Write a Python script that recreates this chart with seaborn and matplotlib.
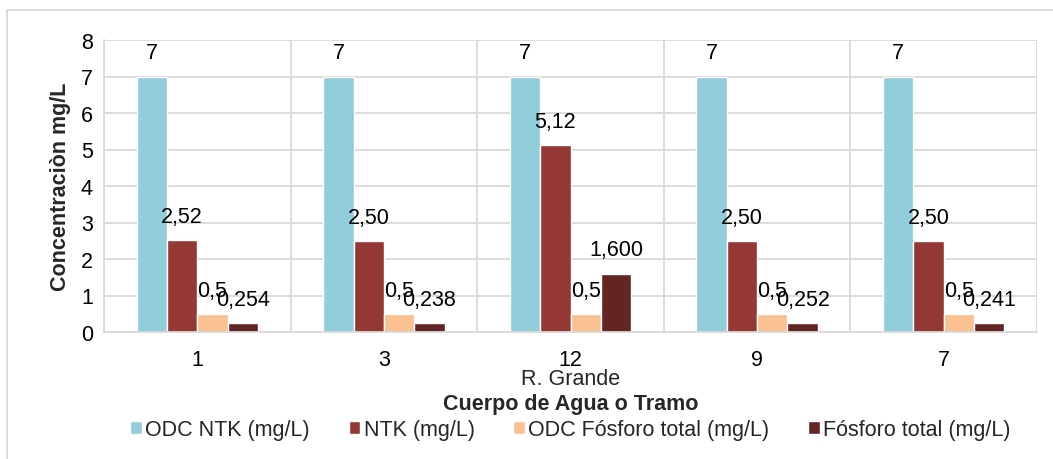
import matplotlib
matplotlib.use("Agg")
import matplotlib.pyplot as plt
import seaborn as sns
import pandas as pd
import numpy as np
from matplotlib.patches import Rectangle

# data
tramos = ["1", "3", "12", "9", "7"]
series = ["ODC NTK (mg/L)", "NTK (mg/L)", "ODC Fósforo total (mg/L)", "Fósforo total (mg/L)"]
odc_ntk = [7, 7, 7, 7, 7]
ntk = [2.52, 2.50, 5.12, 2.50, 2.50]
odc_fosforo = [0.5, 0.5, 0.5, 0.5, 0.5]
fosforo = [0.254, 0.238, 1.600, 0.252, 0.241]
label_fmt = ["{:.0f}", "{:.2f}", "{:.1f}", "{:.3f}"]
colors = ["#92CDDC", "#953735", "#FAC090", "#632523"]

df = pd.DataFrame({"tramo": tramos * 4,
                   "serie": np.repeat(series, 5),
                   "valor": odc_ntk + ntk + odc_fosforo + fosforo})

sns.set_style("white")
plt.rcParams["font.family"] = ["Liberation Sans", "DejaVu Sans"]
fs = 15.5

fig = plt.figure(figsize=(10.53, 4.6), dpi=100)
ax = fig.add_axes([104 / 1053, 1 - 333 / 460, (1037 - 104) / 1053, (333 - 41) / 460])

sns.barplot(data=df, x="tramo", y="valor", hue="serie", order=tramos, hue_order=series,
            palette=colors, width=0.65, saturation=1, ax=ax, legend=True)

for cont, fmt in zip(ax.containers, label_fmt):
    for bar in cont:
        h = bar.get_height()
        ax.annotate(fmt.format(h).replace(".", ","), (bar.get_x() + bar.get_width() / 2, h),
                    xytext=(0, 17), textcoords="offset points", ha="center", va="center",
                    fontsize=fs, color="#000000")

ax.set_ylim(0, 8)
ax.set_xlim(-0.5, 4.5)
ax.set_yticks(range(0, 9))
ax.set_xticks(np.arange(-0.5, 5, 1), minor=True)
ax.grid(axis="y", color="#D9D9D9", lw=1.3)
ax.grid(axis="x", which="minor", color="#D9D9D9", lw=1.3)
ax.set_axisbelow(True)
for s in ["top", "right"]:
    ax.spines[s].set_visible(False)
ax.spines["left"].set_color("#D9D9D9")
ax.spines["bottom"].set_color("#D9D9D9")
ax.spines["left"].set_linewidth(1.3)
ax.spines["bottom"].set_linewidth(1.3)
ax.tick_params(axis="both", which="both", length=0, labelsize=fs, colors="#000000")
ax.tick_params(axis="x", pad=12)
ax.tick_params(axis="y", pad=8)

ax.set_xlabel("")
ax.set_ylabel("Concentraciòn mg/L", fontsize=fs, fontweight="bold", labelpad=7)
ax.text(0.5, -0.16, "R. Grande", transform=ax.transAxes, ha="center", va="center", fontsize=fs)
ax.text(0.5, -0.245, "Cuerpo de Agua o Tramo", transform=ax.transAxes, ha="center", va="center",
        fontsize=fs, fontweight="bold")

handles, labels = ax.get_legend_handles_labels()
ax.legend(handles, labels, loc="center", bbox_to_anchor=(0.5, -0.335), ncol=4, frameon=False,
          fontsize=fs, handlelength=0.55, handleheight=0.55, handletextpad=0.15, columnspacing=1.8,
          borderpad=0)

fig.add_artist(Rectangle((7 / 1053, -0.1), 1.2, 1 - 11 / 460 + 0.1, transform=fig.transFigure,
                         fill=False, edgecolor="#D9D9D9", lw=1.3))

fig.savefig("out.png", dpi=100)
